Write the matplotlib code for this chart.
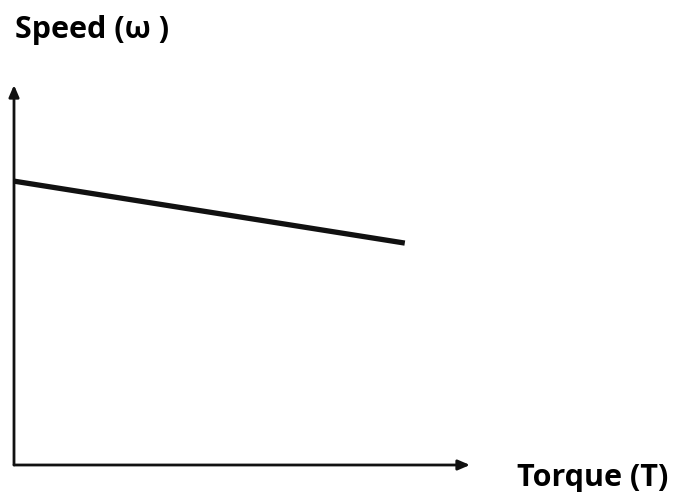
import matplotlib
matplotlib.use("Agg")
import matplotlib.pyplot as plt

# motor speed-torque characteristic (arbitrary units)
torque = [0.0, 0.857]
speed = [0.747, 0.584]

INK = '#111111'

fig = plt.figure(figsize=(6.73, 4.92), dpi=100, facecolor='white')
# axes box: left edge at the y axis, bottom at the x axis
ax = fig.add_axes([14 / 673, 27 / 492, 456 / 673, 380 / 492])
ax.set_xlim(0, 1)
ax.set_ylim(0, 1)
ax.axis('off')

ax.plot(torque, speed, color=INK, linewidth=3.8, solid_capstyle='butt', zorder=3)

arrow = dict(arrowstyle='-|>,head_length=0.7,head_width=0.3', color=INK,
             linewidth=2.0, shrinkA=0, shrinkB=0)
ax.annotate('', xy=(1, 0), xytext=(0, 0), xycoords='axes fraction', arrowprops=arrow)
ax.annotate('', xy=(0, 1), xytext=(0, 0), xycoords='axes fraction', arrowprops=arrow)

fig.text(15 / 673, 1 - 38 / 492, 'Speed (ω )', fontsize=22, fontweight='bold',
         family='Open Sans', color='black', ha='left', va='baseline')
fig.text(668 / 673, 1 - 486 / 492, 'Torque (T)', fontsize=22, fontweight='bold',
         family='Open Sans', color='black', ha='right', va='baseline')

fig.savefig('out.png', dpi=100, facecolor='white')
